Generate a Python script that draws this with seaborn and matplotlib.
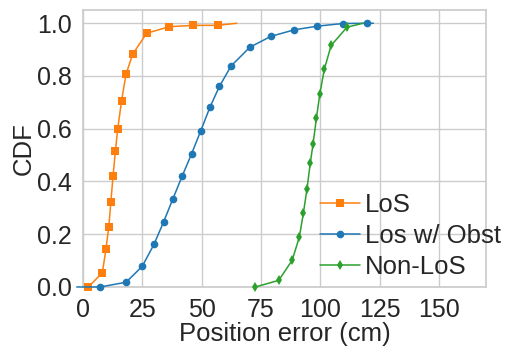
import numpy as np
import matplotlib
matplotlib.use("Agg")
import matplotlib.pyplot as plt
import seaborn as sns

# values (marker points, then the line tail)
los_x = [2.2, 8.1, 9.6, 10.8, 11.7, 12.6, 13.6, 14.6, 16.2, 18.1, 20.9, 26.8, 36.3, 46.5, 56.8]
los_y = [0.0, 0.054, 0.143, 0.227, 0.323, 0.42, 0.515, 0.6, 0.706, 0.807, 0.883, 0.962, 0.987, 0.992, 0.992]
los_tail_x = [64.8]
los_tail_y = [1.0]

obst_x = [7.2, 18.1, 24.9, 29.9, 33.9, 37.8, 41.7, 45.7, 49.6, 53.5, 57.5, 62.4, 70.3, 79.1, 89.0, 98.8, 109.6, 119.6]
obst_y = [0.0, 0.018, 0.078, 0.162, 0.246, 0.333, 0.419, 0.504, 0.592, 0.682, 0.761, 0.838, 0.909, 0.95, 0.975, 0.989, 0.999, 1.0]
obst_head_x = [-2.7]
obst_head_y = [0.0]
obst_tail_x = [122.4]
obst_tail_y = [1.0]

nlos_x = [72.6, 82.5, 88.2, 91.2, 92.9, 94.4, 95.8, 97.0, 98.4, 99.8, 101.7, 104.6, 111.3]
nlos_y = [0.0, 0.025, 0.102, 0.19, 0.281, 0.371, 0.47, 0.544, 0.641, 0.731, 0.825, 0.916, 0.985]
nlos_tail_x = [118.0]
nlos_tail_y = [1.0]

sns.set_theme(style="whitegrid")
plt.rcParams['font.family'] = ['Liberation Sans', 'DejaVu Sans']

fig = plt.figure(figsize=(5.07, 3.47), dpi=100)
ax = fig.add_axes([0.164, 0.173, 0.795, 0.798])

series = [
    ("LoS", [], [], los_x, los_y, los_tail_x, los_tail_y, "s", "#ff7f0e"),
    ("Los w/ Obst", obst_head_x, obst_head_y, obst_x, obst_y, obst_tail_x, obst_tail_y, "o", "#1f77b4"),
    ("Non-LoS", [], [], nlos_x, nlos_y, nlos_tail_x, nlos_tail_y, "d", "#2ca02c"),
]
for name, hx, hy, mx, my, tx, ty, mk, col in series:
    xs = hx + mx + tx
    ys = hy + my + ty
    marks = list(range(len(hx), len(hx) + len(mx)))
    sns.lineplot(x=xs, y=ys, sort=False, estimator=None, color=col, lw=1.1,
                 marker=mk, markersize=5.5, markeredgewidth=0, markevery=marks,
                 label=name, ax=ax, clip_on=False, zorder=3)

ax.set_xlim(0, 170)
ax.set_ylim(0, 1.05)
ax.set_xticks([0, 25, 50, 75, 100, 125, 150])
ax.set_yticks([0.0, 0.2, 0.4, 0.6, 0.8, 1.0])
ax.set_yticklabels(["0.0", "0.2", "0.4", "0.6", "0.8", "1.0"])
ax.tick_params(labelsize=18, pad=2, colors=".15")
ax.set_xlabel("Position error (cm)", fontsize=18.5, labelpad=0, color=".15")
ax.set_ylabel("CDF", fontsize=18.5, labelpad=1, color=".15")

leg = ax.legend(loc="upper left", bbox_to_anchor=(0.588, 0.34), frameon=False,
                fontsize=18.5, handlelength=1.55, handletextpad=0.2,
                labelspacing=0.28, borderpad=0, borderaxespad=0)
for t in leg.get_texts():
    t.set_color(".15")

fig.savefig("out.png", dpi=100)
